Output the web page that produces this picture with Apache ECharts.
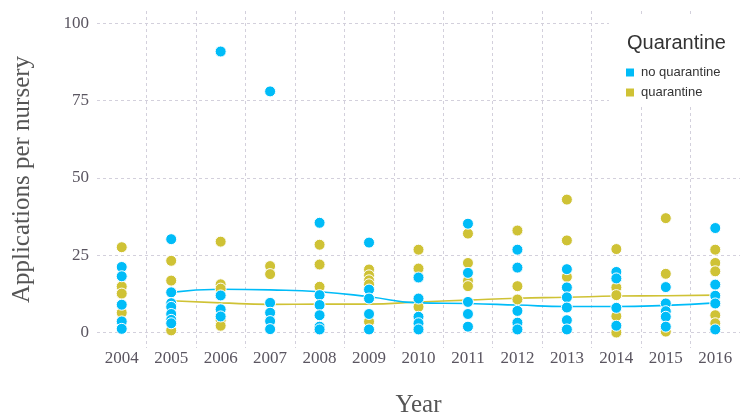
<!DOCTYPE html>
<html>
<head>
<meta charset="utf-8">
<script src="https://cdn.jsdelivr.net/npm/echarts@6/dist/echarts.min.js"></script>
<style>html,body{margin:0;padding:0;background:#fff}#c{width:740px;height:418px}</style>
</head>
<body>
<div id="c"></div>
<script>
var years = ['2004','2005','2006','2007','2008','2009','2010','2011','2012','2013','2014','2015','2016'];
var yTicks = [0, 25, 50, 75, 100];
var noQuarantine = [
  [21.2, 18.2, 9, 3.6, 1.2],
  [30.2, 13, 9.5, 8.3, 6, 4.1, 3],
  [90.9, 12, 7.5, 5.2],
  [78, 9.6, 6.4, 3.7, 1.1],
  [35.5, 12.1, 8.9, 5.6, 1.9, 1],
  [29.1, 13.9, 11, 6, 1],
  [17.8, 11, 5.1, 3, 1],
  [35.2, 19.3, 9.9, 6, 1.9],
  [26.8, 21, 7, 3.2, 1],
  [20.5, 14.6, 11.4, 8.1, 4, 1],
  [19.6, 17.5, 8, 2.2],
  [14.7, 9.4, 6.9, 5.1, 1.9],
  [33.8, 15.5, 11.9, 9.4, 1]
];
var quarantine = [
  [27.6, 14.9, 12.6, 6.4],
  [23.2, 16.8, 0.7],
  [29.4, 15.6, 14.2, 4, 2.2],
  [21.5, 18.9],
  [28.4, 22, 14.8],
  [20.4, 18.5, 16.9, 15.6, 3.5],
  [26.8, 20.7, 8.3],
  [32, 22.5, 16.7, 15],
  [33, 15, 10.7],
  [43, 29.8, 18],
  [27, 14.6, 12.1, 5.3, 0],
  [37, 19, 0.3],
  [26.8, 22.5, 19.8, 5.6, 3]
];
var noQuarantineTrend = [null, 13, 14, 13.8, 13.2, 11.6, 9.6, 9.4, 8.9, 8.4, 8.4, 8.8, 9.6];
var quarantineTrend = [null, 10.3, 9.6, 9.1, 9.2, 9.2, 9.9, 10.5, 11.1, 11.4, 11.8, 11.9, 12.1];

var BLUE = '#00bcf8', YELLOW = '#cfc235';
function pts(groups) {
  var out = [];
  groups.forEach(function (g, i) { g.forEach(function (v) { out.push([years[i], v]); }); });
  return out;
}
var serif = '"Liberation Serif", "DejaVu Serif", serif';
var chart = echarts.init(document.getElementById('c'), null, {renderer: 'canvas'});
chart.setOption({
  animation: false,
  backgroundColor: '#fff',
  grid: {left: 97, right: 0, top: 11, bottom: 70, containLabel: false, outerBoundsMode: 'none'},
  title: {
    text: 'Quarantine', left: 622, top: 28,
    textStyle: {fontFamily: 'Liberation Sans, Arial, sans-serif', fontSize: 20, fontWeight: 'normal', color: '#333'}
  },
  graphic: [{type: 'rect', left: 609, top: 17, z: 1, shape: {width: 131, height: 88}, style: {fill: '#fff'}}],
  legend: {
    data: ['no quarantine', 'quarantine'],
    orient: 'vertical', left: 619, top: 61,
    icon: 'rect', itemWidth: 10, itemHeight: 10, itemGap: 7,
    textStyle: {fontFamily: 'Liberation Sans, Arial, sans-serif', fontSize: 13, color: '#333', padding: [0, 0, 0, 1]}
  },
  xAxis: {
    type: 'category', data: years, boundaryGap: true,
    name: 'Year', nameLocation: 'middle', nameGap: 45,
    nameTextStyle: {fontFamily: serif, fontSize: 25, color: '#555'},
    axisLine: {show: false}, axisTick: {show: false},
    axisLabel: {fontFamily: serif, fontSize: 17, color: '#5a5560', margin: 2},
    splitLine: {show: true, showMinLine: false, showMaxLine: false, lineStyle: {color: '#d3d0dc', type: [3, 3], width: 1}}
  },
  yAxis: {
    type: 'value', min: -5, max: 104,
    name: 'Applications per nursery', nameLocation: 'middle', nameGap: 62,
    nameTextStyle: {fontFamily: serif, fontSize: 25, color: '#555'},
    axisLine: {show: false},
    axisTick: {show: false, customValues: yTicks},
    axisLabel: {customValues: yTicks, fontFamily: serif, fontSize: 17, color: '#5a5560', margin: 8},
    splitLine: {show: true, lineStyle: {color: '#d3d0dc', type: [3, 3], width: 1}}
  },
  series: [
    {name: 'quarantine trend', type: 'line', data: quarantineTrend, smooth: true, showSymbol: false,
     lineStyle: {color: YELLOW, width: 1.6}, itemStyle: {color: YELLOW}, z: 2},
    {name: 'no quarantine trend', type: 'line', data: noQuarantineTrend, smooth: true, showSymbol: false,
     lineStyle: {color: BLUE, width: 1.6}, itemStyle: {color: BLUE}, z: 2},
    {name: 'quarantine', type: 'scatter', data: pts(quarantine), symbolSize: 11,
     itemStyle: {color: YELLOW, borderColor: '#fff', borderWidth: 1, opacity: 1}, z: 3},
    {name: 'no quarantine', type: 'scatter', data: pts(noQuarantine), symbolSize: 11,
     itemStyle: {color: BLUE, borderColor: '#fff', borderWidth: 1, opacity: 1}, z: 4}
  ]
});
</script>
</body>
</html>
